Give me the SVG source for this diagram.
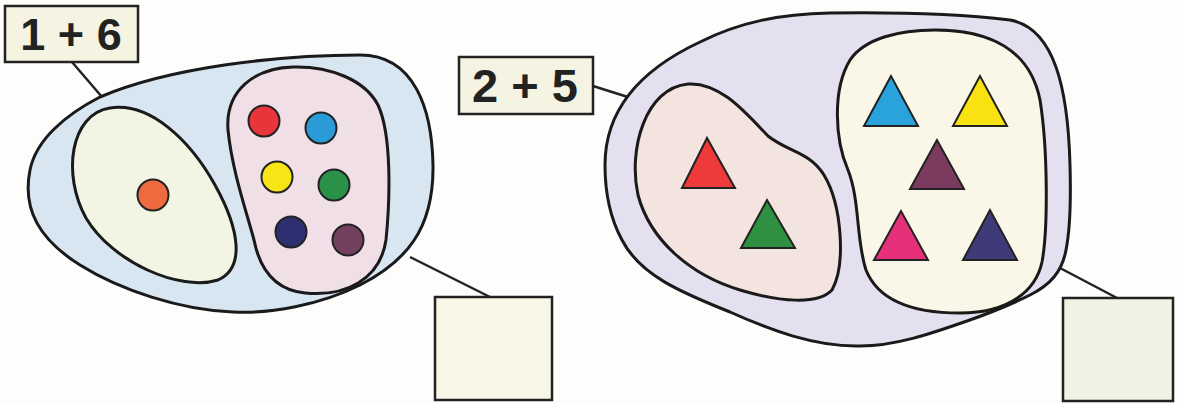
<svg xmlns="http://www.w3.org/2000/svg" width="1177" height="403" viewBox="0 0 1177 403">
<style>
.blob{stroke:#1a1a1a;stroke-width:3;stroke-linejoin:round}
.box{stroke:#222;stroke-width:2.5}
.ln{stroke:#222;stroke-width:2.5;fill:none}
.dot{stroke:#222;stroke-width:2}
.tri{stroke:#222;stroke-width:2;stroke-linejoin:miter}
.lbl{font-family:"Liberation Sans",Arial,sans-serif;font-weight:bold;fill:#222}
</style>
<rect width="1177" height="403" fill="#fdfdfc"/>
<g id="connectors">
<line class="ln" x1="72" y1="62" x2="102" y2="97"/>
<line class="ln" x1="410" y1="257" x2="490" y2="297"/>
<line class="ln" x1="593" y1="86" x2="631" y2="98"/>
<line class="ln" x1="1060" y1="268" x2="1117" y2="298"/>
</g>
<g id="set-left">
<path class="blob" fill="#d8e6f1" d="M 100,97 C 170,67 280,55 360,55 C 415,55 432,110 433,165 C 434,230 405,262 360,285 C 320,305 270,314 233,312 C 180,310 120,290 80,265 C 40,240 22,210 30,170 C 36,140 65,115 100,97 Z"/>
</g>
<g id="subset-left-1">
<path class="blob" fill="#f2f4e4" d="M 110,108 C 150,102 190,140 215,185 C 240,230 245,268 218,280 C 180,292 112,262 86,218 C 62,175 70,114 110,108 Z"/>
<circle class="dot" cx="153" cy="195" r="15.5" fill="#ef6a3e"/>
</g>
<g id="subset-left-6">
<path class="blob" fill="#f1dfe7" d="M 293,67 C 330,66 365,80 378,105 C 392,135 390,200 386,240 C 380,280 345,297 305,293 C 275,290 260,270 254,240 C 246,210 232,170 228,130 C 225,90 255,68 293,67 Z"/>
<circle class="dot" cx="264" cy="121" r="15.5" fill="#e8353b"/>
<circle class="dot" cx="321" cy="128" r="15.5" fill="#2a9bd7"/>
<circle class="dot" cx="277" cy="177" r="15.5" fill="#f7e516"/>
<circle class="dot" cx="334" cy="185" r="15.5" fill="#2a9148"/>
<circle class="dot" cx="291" cy="232" r="15.5" fill="#2c3070"/>
<circle class="dot" cx="348" cy="240" r="15.5" fill="#73405e"/>
</g>
<g id="label-left">
<rect class="box" x="5" y="6" width="133" height="56" fill="#f5f3e1"/>
<text class="lbl" x="71" y="50" font-size="45" text-anchor="middle">1 + 6</text>
</g>
<g id="answer-left">
<rect class="box" x="435" y="297" width="117" height="103" fill="#f8f6e6"/>
</g>
<g id="set-right">
<path class="blob" fill="#e4e0f0" d="M 605,165 C 605,110 640,70 700,42 C 740,22 780,14 830,13 C 900,12 960,14 1010,20 C 1055,28 1068,90 1070,165 C 1071,200 1070,230 1066,250 C 1062,272 1050,285 1030,295 C 1010,305 990,313 967,321 C 930,334 895,346 860,346 C 815,347 770,330 730,312 C 680,292 640,275 622,240 C 610,218 605,190 605,165 Z"/>
</g>
<g id="subset-right-2">
<path class="blob" fill="#f3e4df" d="M 688,84 C 720,82 745,112 768,136 C 788,152 810,152 824,175 C 842,205 846,265 832,290 C 818,305 780,302 740,290 C 690,275 650,240 638,195 C 628,150 645,88 688,84 Z"/>
<polygon class="tri" points="707,138 682,188 735,188" fill="#ee3a3a"/>
<polygon class="tri" points="767,200 741,248 795,248" fill="#2e9040"/>
</g>
<g id="subset-right-5">
<path class="blob" fill="#fbf7e8" d="M 935,30 C 990,30 1030,50 1040,100 C 1048,150 1048,230 1042,262 C 1036,290 1010,313 960,313 C 920,313 880,305 866,270 C 856,240 860,200 848,170 C 835,140 832,90 850,60 C 865,38 900,30 935,30 Z"/>
<polygon class="tri" points="891,76 864,126 918,126" fill="#2aa3dc"/>
<polygon class="tri" points="980,76 953,126 1007,126" fill="#f8e212"/>
<polygon class="tri" points="937,140 910,189 964,189" fill="#7b3b5e"/>
<polygon class="tri" points="901,211 874,260 928,260" fill="#e6307a"/>
<polygon class="tri" points="990,210 963,260 1017,260" fill="#3f3a78"/>
</g>
<g id="label-right">
<rect class="box" x="459" y="57" width="134" height="57" fill="#f5f3e1"/>
<text class="lbl" x="525" y="102" font-size="47" text-anchor="middle">2 + 5</text>
</g>
<g id="answer-right">
<rect class="box" x="1063" y="298" width="110" height="103" fill="#eff3e4"/>
</g>
</svg>
